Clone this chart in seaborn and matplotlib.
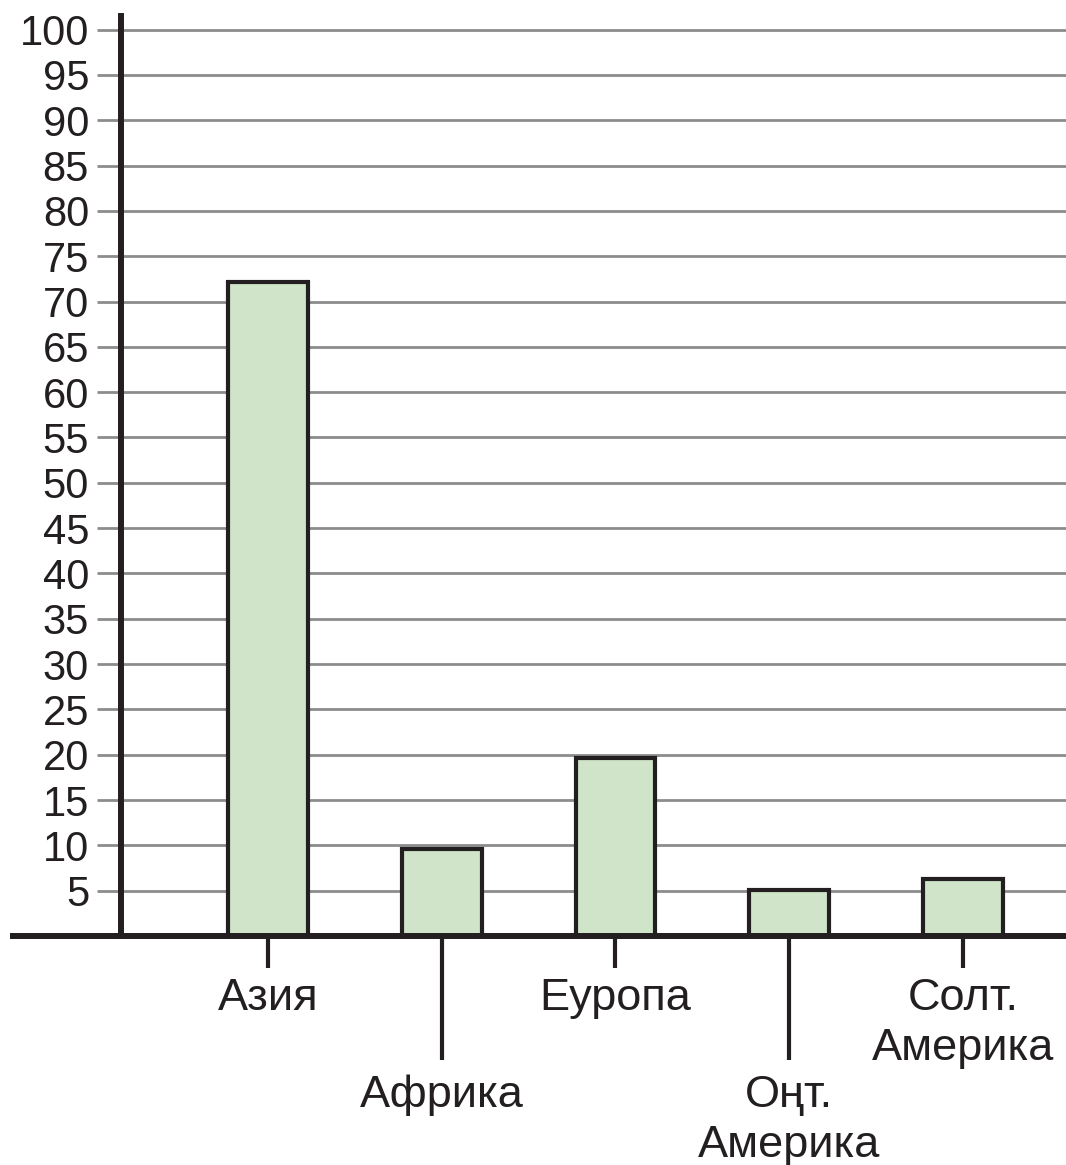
import pandas as pd
import matplotlib
matplotlib.use('Agg')
import matplotlib.pyplot as plt
import seaborn as sns

# Данные графика
regions = ["Азия", "Африка", "Еуропа", "Оңт.\nАмерика", "Солт.\nАмерика"]
values = [72.2, 9.6, 19.6, 5.1, 6.3]
y_ticks = list(range(5, 101, 5))

df = pd.DataFrame({"region": regions, "value": values})

ink = "#231f20"
grid_gray = "#8c8c8c"
bar_fill = "#cfe4c8"

sns.set_style("white")
plt.rcParams['font.family'] = ['Liberation Sans', 'DejaVu Sans']

fig = plt.figure(figsize=(10.66, 11.65), dpi=100)
ax = fig.add_axes([121 / 1066, 1 - 936 / 1165, 1 - 121 / 1066, 920 / 1165])

sns.barplot(data=df, x="region", y="value", ax=ax, color=bar_fill,
            edgecolor=ink, linewidth=3, width=0.46, saturation=1, zorder=3)

ax.set_xlim(-0.846, 4.593)
ax.set_ylim(0, 101.5)

# Горизонтальная сетка
ax.set_yticks(y_ticks)
ax.set_yticklabels([str(t) for t in y_ticks])
ax.yaxis.grid(True, color=grid_gray, linewidth=2)
ax.xaxis.grid(False)
ax.set_axisbelow(True)
ax.tick_params(axis='y', direction='out', length=17, width=2, color=grid_gray,
               labelsize=30, labelcolor=ink, pad=6, left=True)

# Подписи категорий: чередующиеся длины засечек
ax.set_xticks([0, 2, 4])
ax.set_xticklabels([regions[0], regions[2], regions[4]], linespacing=1.3)
ax.set_xticks([1, 3], minor=True)
ax.set_xticklabels([regions[1], regions[3]], minor=True, linespacing=1.3)
ax.tick_params(axis='x', which='major', direction='out', length=23, width=3,
               color=ink, labelsize=32.5, labelcolor=ink, pad=7, bottom=True)
ax.tick_params(axis='x', which='minor', direction='out', length=89, width=3,
               color=ink, labelsize=32.5, labelcolor=ink, pad=11, bottom=True)

# Оси
for side in ['top', 'right', 'bottom']:
    ax.spines[side].set_visible(False)
ax.spines['left'].set_color(ink)
ax.spines['left'].set_linewidth(4.3)
ax.plot([-0.117, 1], [0, 0], transform=ax.transAxes, color=ink,
        linewidth=4.3, clip_on=False, zorder=5, solid_capstyle='butt')

ax.set_xlabel("")
ax.set_ylabel("")

fig.savefig("out.png", dpi=100)
